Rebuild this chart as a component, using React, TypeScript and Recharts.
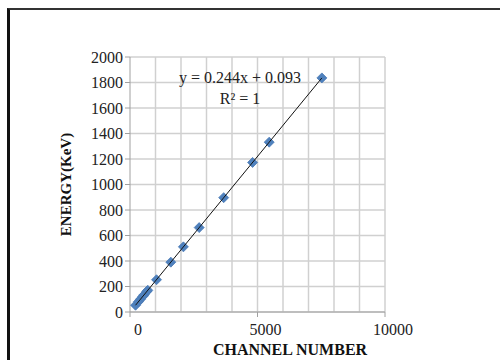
import React from 'react';
import { ScatterChart, Scatter, XAxis, YAxis, CartesianGrid, ReferenceLine, Label } from 'recharts';

const channels = [217, 332, 410, 500, 557, 656, 697, 1040, 1600, 2094, 2713, 3675, 4807, 5459, 7525];
const energies = [53, 81, 100, 122, 136, 160, 170, 253, 391, 511, 662, 897, 1173, 1332, 1836];
const trendX = [217, 7525];
const trendY = [53, 1836];
const yTicks = [0, 200, 400, 600, 800, 1000, 1200, 1400, 1600, 1800, 2000];
const xTicks = [0, 5000, 10000];
const xMinorGrid = [1000, 2000, 3000, 4000, 5000, 6000, 7000, 8000, 9000, 10000];
const equationText = 'y = 0.244x + 0.093';
const r2Text = 'R² = 1';

const points = channels.map((c, i) => ({ x: c, y: energies[i] }));
const trend = trendX.map((c, i) => ({ x: c, y: trendY[i] }));

const FONT = '"Liberation Serif", "Times New Roman", serif';
const GRID = '#d0d0d0';
const AXIS = '#a0a0a0';

const Diamond = (props: any) => {
  const { cx, cy } = props;
  if (cx == null || cy == null) return null;
  const h = 5;
  return (
    <polygon
      points={`${cx},${cy - h} ${cx + h},${cy} ${cx},${cy + h} ${cx - h},${cy}`}
      fill="#4f81bd"
      stroke="#4a7ab5"
      strokeWidth={0.8}
    />
  );
};

export default function App() {
  return (
    <div style={{ position: 'absolute', left: 0, top: 0, width: 500, height: 360, overflow: 'hidden', background: '#fff' }}>
      <div style={{ position: 'absolute', left: 7, top: 8, width: 540, height: 420, borderLeft: '3px solid #111', borderTop: '2px solid #333' }} />
      <div style={{ position: 'absolute', left: 0, top: 0 }}>
        <ScatterChart width={500} height={360} margin={{ top: 57, right: 115, bottom: 18, left: 70 }}>
          <CartesianGrid vertical={false} stroke={GRID} strokeWidth={1.5} />
          {xMinorGrid.map((v) => (
            <ReferenceLine key={v} x={v} stroke={GRID} strokeWidth={1.5} ifOverflow="visible" />
          ))}
          <XAxis
            type="number"
            dataKey="x"
            domain={[0, 10000]}
            ticks={xTicks}
            allowDataOverflow
            height={30}
            stroke={AXIS}
            tickSize={5}
            tickMargin={7}
            tick={{ fill: '#222', fontSize: 16, fontFamily: FONT, dx: 8 }}
          />
          <YAxis
            type="number"
            dataKey="y"
            domain={[0, 2000]}
            ticks={yTicks}
            width={60}
            stroke={AXIS}
            tickSize={5}
            tickMargin={2}
            tick={{ fill: '#222', fontSize: 16, fontFamily: FONT }}
          >
            <Label
              content={(props: any) => {
                const vb = props.viewBox || {};
                const cx = vb.x - 4;
                const cy = vb.y + vb.height / 2;
                return (
                  <text
                    x={cx}
                    y={cy}
                    transform={`rotate(-90 ${cx} ${cy})`}
                    textAnchor="middle"
                    dominantBaseline="central"
                    fontFamily={FONT}
                    fontWeight="bold"
                    fontSize={15}
                    fill="#111"
                  >
                    ENERGY(KeV)
                  </text>
                );
              }}
            />
          </YAxis>
          <Scatter data={points} shape={<Diamond />} isAnimationActive={false} />
          <Scatter
            data={trend}
            line={{ stroke: '#111', strokeWidth: 1 }}
            shape={() => null}
            isAnimationActive={false}
          />
        </ScatterChart>
      </div>
      <div style={{ position: 'absolute', left: 140, width: 200, top: 68, textAlign: 'center', fontFamily: FONT, fontSize: 16, lineHeight: '20px', color: '#222' }}>
        {equationText}
      </div>
      <div style={{ position: 'absolute', left: 140, width: 200, top: 89, textAlign: 'center', fontFamily: FONT, fontSize: 16, lineHeight: '20px', color: '#222' }}>
        {r2Text}
      </div>
      <div style={{ position: 'absolute', left: 190, width: 200, top: 340, textAlign: 'center', fontFamily: FONT, fontSize: 16, fontWeight: 'bold', lineHeight: '20px', color: '#111' }}>
        CHANNEL NUMBER
      </div>
    </div>
  );
}
